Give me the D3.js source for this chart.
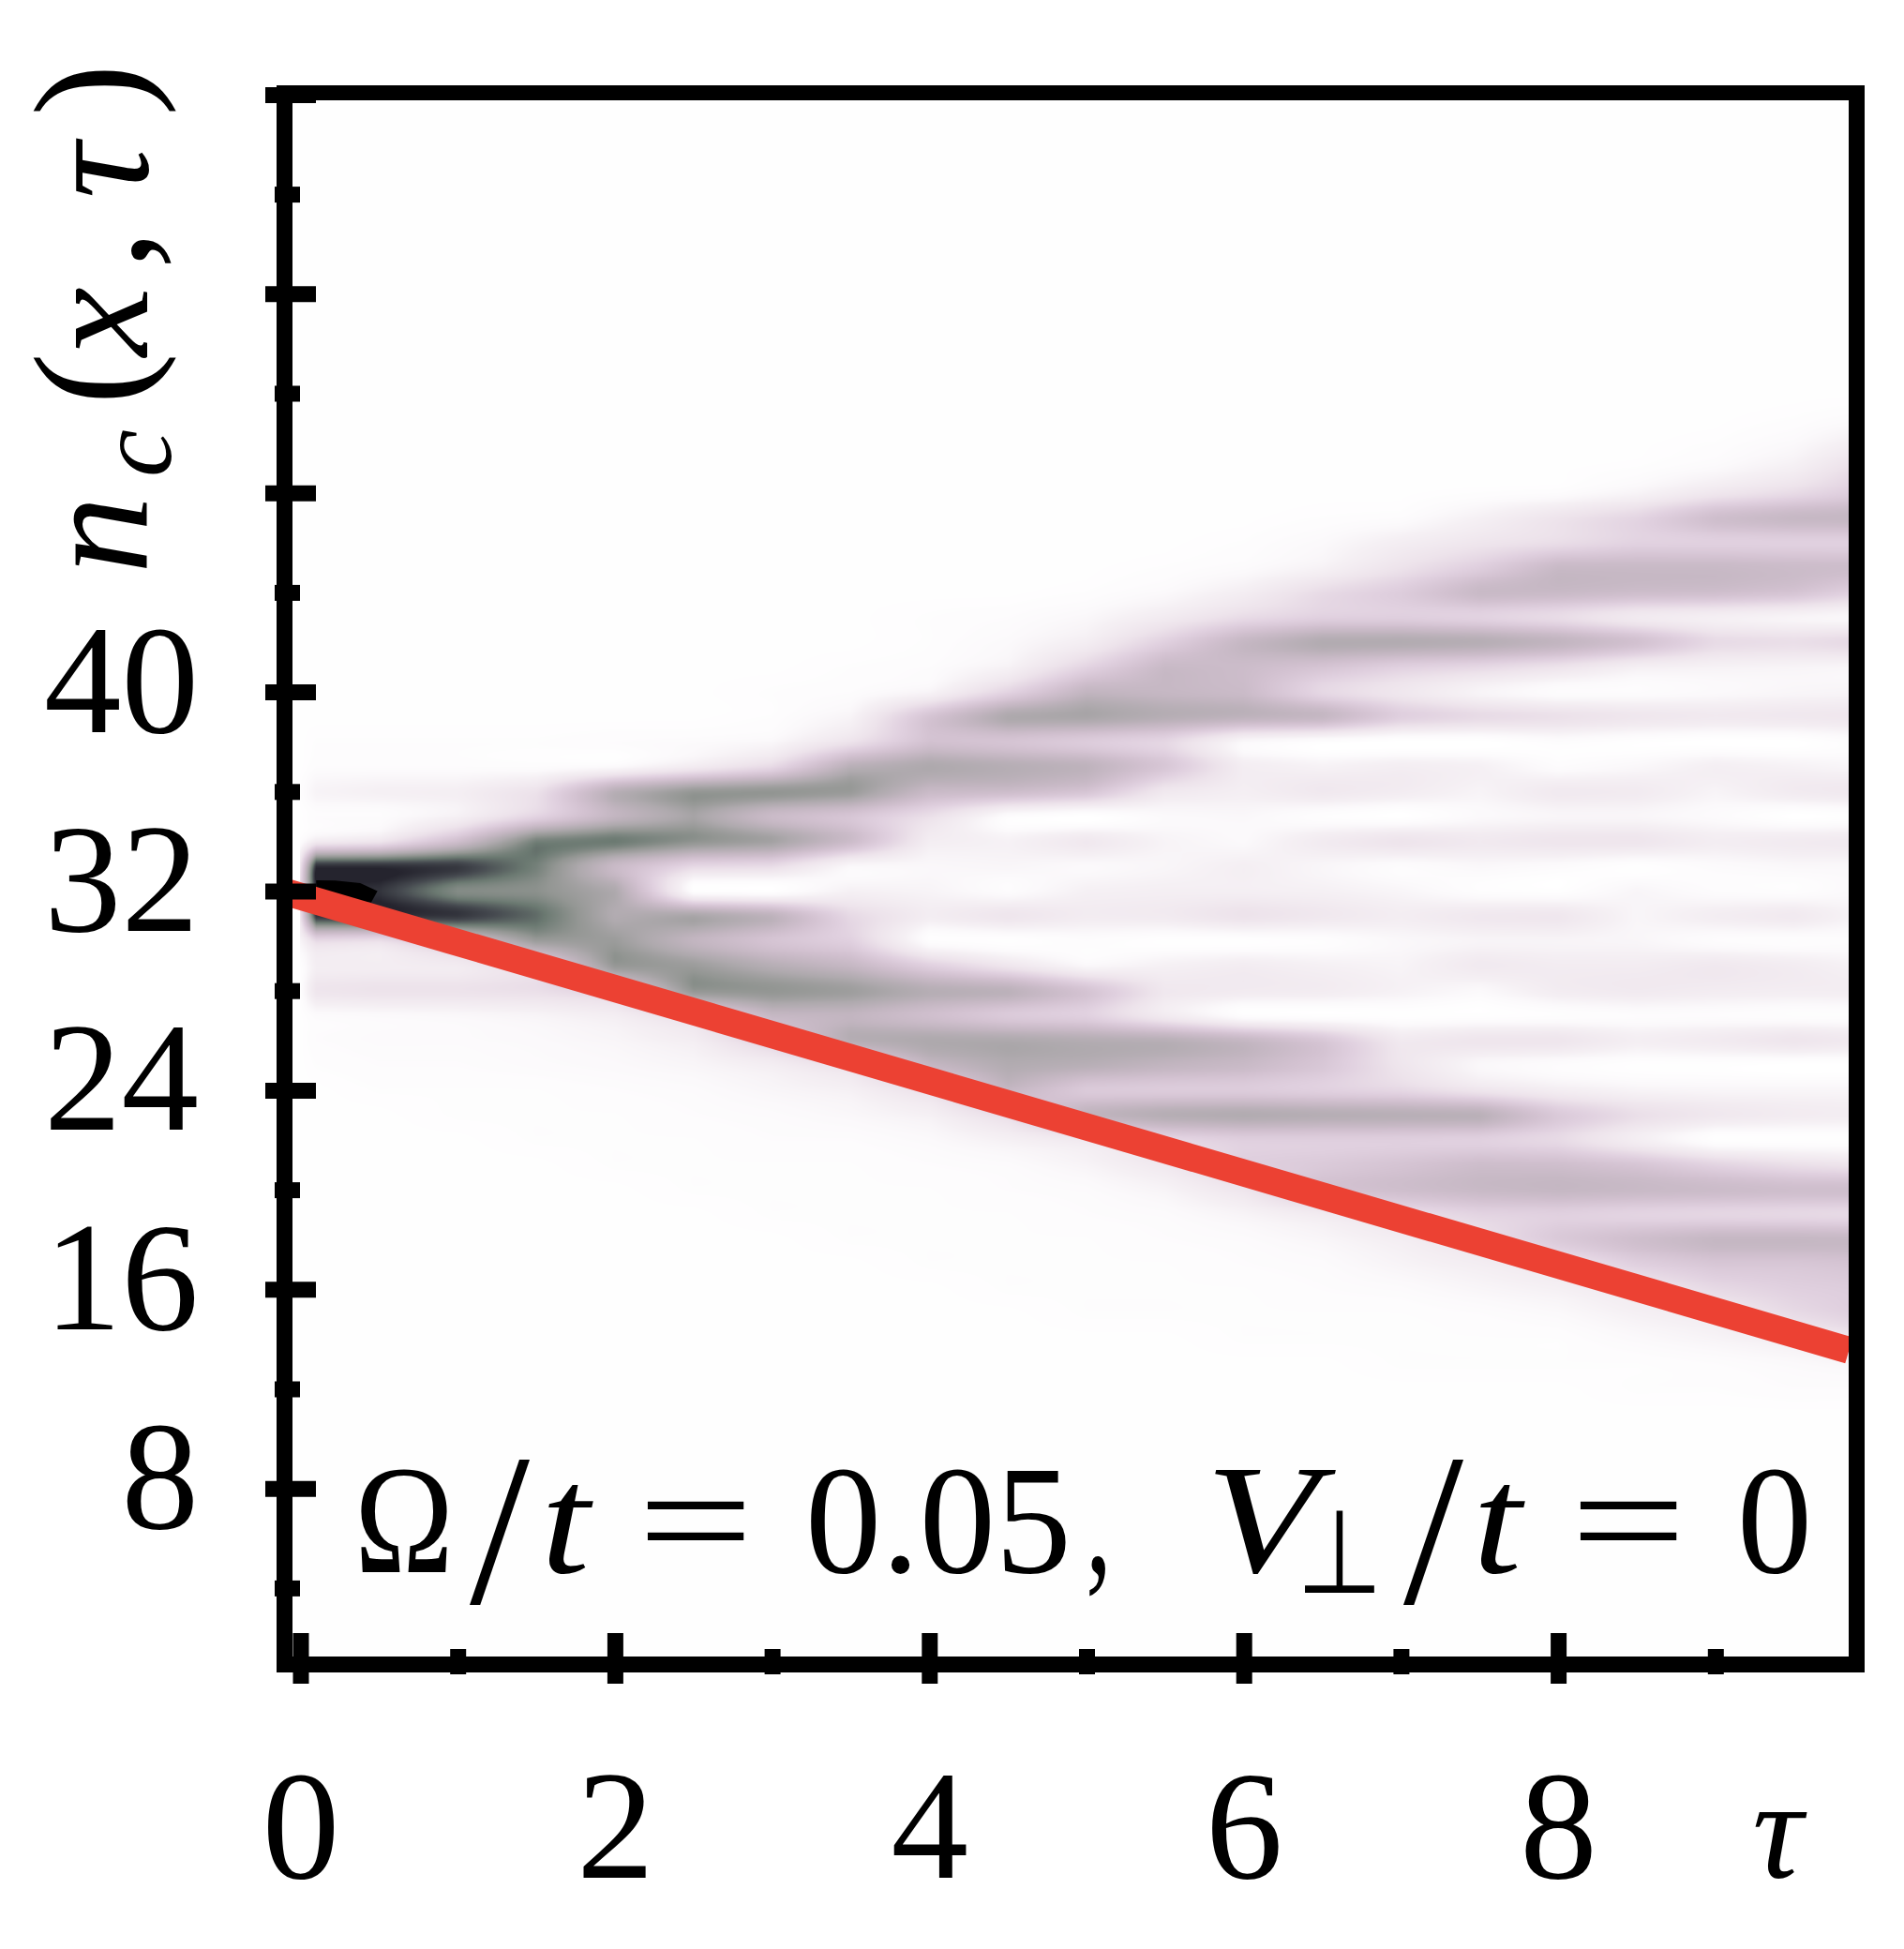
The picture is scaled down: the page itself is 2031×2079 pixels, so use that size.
<!DOCTYPE html>
<html><head><meta charset="utf-8">
<script src="https://cdnjs.cloudflare.com/ajax/libs/d3/7.8.5/d3.min.js"></script>
<style>html,body{margin:0;padding:0;background:#fff}svg{display:block}text{font-family:"Liberation Serif",serif;fill:#000}</style>
</head><body>
<script>
// ---- data ----
const tauColumns = [0,0.1,0.5,1,1.5,2,2.5,3,3.5,4,4.5,5,5.5,6,6.5,7,7.5,8,8.5,9,9.5,9.9];
const s52=[1,1,1,1,1,1,1,1,1,1,1,1,1,1,1,1,1,1,1,1,1,1];
const s51=[1,1,1,1,1,1,1,1,1,1,1,1,1,1,1,1,1,1,1,1,2,4];
const s50=[1,1,1,1,1,1,1,1,1,1,1,1,1,1,1,1,1,1,1,2,5,12];
const s49=[1,1,1,1,1,1,1,1,1,1,1,1,1,1,1,1,1,1,2,5,11,23];
const s48=[1,1,1,1,1,1,1,1,1,1,1,1,1,1,1,1,2,3,8,17,24,32];
const s47=[1,1,1,1,1,1,1,1,1,1,1,1,1,1,2,3,10,19,27,42,47,48];
const s46=[1,1,1,1,1,1,1,1,1,1,1,1,1,2,5,12,18,23,29,30,30,30];
const s45=[1,1,1,1,1,1,1,1,1,1,1,1,2,4,9,20,31,46,46,46,44,43];
const s44=[1,1,1,1,1,1,1,1,1,1,1,2,5,12,24,32,46,46,43,42,38,29];
const s43=[1,1,1,1,1,1,1,1,1,2,3,6,14,24,30,31,29,24,15,11,8,6];
const s42=[1,1,1,1,1,1,1,1,1,2,5,12,30,48,58,58,56,50,40,24,22,25];
const s41=[1,1,1,1,1,1,1,1,2,3,9,28,46,44,38,30,26,20,11,9,8,7];
const s40=[1,1,1,1,1,1,1,2,3,8,28,50,48,45,26,17,8,3,3,5,7,8];
const s39=[1,1,1,1,1,1,1,2,8,38,60,62,56,52,48,30,24,21,17,15,16,17];
const s38=[1,2,2,2,2,3,4,6,20,40,38,33,27,6,2,0,0,3,1,0,0,3];
const s37=[1,3,3,3,3,5,14,25,55,60,56,52,36,12,9,12,10,3,6,11,9,7];
const s36=[2,8,10,11,20,55,69,70,68,46,44,38,16,11,16,13,8,15,14,8,14,16];
const s35=[1,3,3,10,28,50,63,45,37,22,3,0,5,6,2,0,5,7,7,4,0,1];
const s34=[3,14,18,42,78,80,71,64,44,12,9,16,8,5,14,19,15,18,18,12,14,15];
const s33=[20,97,97,94,78,46,26,24,6,6,7,5,7,11,7,3,6,4,1,4,6,6];
const s32=[25,99,96,74,72,60,2,1,10,8,3,10,11,11,10,7,2,1,7,3,2,5];
const s31=[20,96,97,95,83,58,62,52,25,12,18,13,14,20,16,12,16,17,7,12,15,8];
const s30=[8,25,22,40,67,67,50,38,30,2,1,3,1,1,2,6,8,8,7,3,2,3];
const s29=[2,12,12,14,25,69,67,56,48,30,18,6,10,13,10,8,15,13,13,16,13,9];
const s28=[2,18,20,20,22,30,70,70,66,56,53,38,16,14,13,9,5,13,15,13,12,12];
const s27=[1,4,5,6,8,12,25,48,50,42,34,30,14,2,1,1,1,2,3,3,2,2];
const s26=[1,3,4,4,5,7,12,30,56,60,60,57,55,48,36,15,18,18,11,14,18,15];
const s25=[1,2,3,3,4,5,7,12,22,48,58,55,50,46,36,18,6,3,1,1,0,0];
const s24=[1,1,2,2,2,3,4,7,10,22,48,34,33,33,30,26,18,12,8,7,7,7];
const s23=[1,1,1,2,2,2,3,4,6,10,24,50,56,58,56,55,54,34,22,16,13,12];
const s22=[1,1,1,1,2,2,2,3,3,5,10,16,26,31,31,31,30,25,12,1,1,1];
const s21=[1,1,1,1,1,2,2,2,2,3,4,8,16,30,34,38,43,42,37,28,22,19];
const s20=[1,1,1,1,1,1,2,2,2,2,3,4,8,18,38,42,46,48,46,44,42,42];
const s19=[1,1,1,1,1,1,1,2,2,2,2,3,4,8,14,22,28,30,28,27,26,25];
const s18=[1,1,1,1,1,1,1,1,2,2,2,2,3,4,7,12,20,34,42,48,48,47];
const s17=[1,1,1,1,1,1,1,1,1,2,2,2,2,3,4,8,12,18,30,36,36,38];
const s16=[1,1,1,1,1,1,1,1,1,1,2,2,2,2,3,4,7,10,16,25,30,32];
const s15=[1,1,1,1,1,1,1,1,1,1,1,2,2,2,2,2,3,5,10,14,24,30];
const s14=[1,1,1,1,1,1,1,1,1,1,1,1,1,2,2,2,2,2,5,8,12,18];
const s13=[1,1,1,1,1,1,1,1,1,1,1,1,1,1,1,2,2,2,2,3,5,7];
const s12=[1,1,1,1,1,1,1,1,1,1,1,1,1,1,1,1,1,1,2,2,3,3];
const s11=[1,1,1,1,1,1,1,1,1,1,1,1,1,1,1,1,1,1,1,1,1,1];
const siteRows=[s52,s51,s50,s49,s48,s47,s46,s45,s44,s43,s42,s41,s40,s39,s38,s37,s36,s35,s34,s33,s32,s31,s30,s29,s28,s27,s26,s25,s24,s23,s22,s21,s20,s19,s18,s17,s16,s15,s14,s13,s12,s11];
const topSite=52;
const lightConeTau=[-0.1,9.85];
const lightConeSite=[31.97,13.55];
const saturatedTau=[0.1,0.22,0.38,0.49,0.45,0.1];
const saturatedSite=[32.43,32.42,32.32,32,31.55,31.75];
const xMajorTicks=[0,2,4,6,8];
const xMinorTicks=[1,3,5,7,9];
const yMajorTicks=[8,16,24,32,40,48,56,64];
const yMinorTicks=[4,12,20,28,36,44,52,60];
const yLabelled=[8,16,24,32,40];
const colorStops=[0,5,10,20,30,40,50,60,70,80,90,100];
const colorValues=["#ffffff","#fbf9fb","#f5f0f4","#ede3eb","#e0d0df","#d2c1d0","#c2b5c0","#aea9ad","#939693","#6c7a72","#45494f","#25242e"];

// ---- layout ----
const W=2031,H=2079;
const x=d3.scaleLinear().domain([0,9]).range([320.5,1829.8]);
const y=d3.scaleLinear().domain([32,8]).range([950.5,1587.7]);
const inner={l:312,r:1972,t:107,b:1767};
const svg=d3.select("body").append("svg").attr("width",W).attr("height",H).attr("viewBox",`0 0 ${W} ${H}`);
const color=d3.scaleLinear().domain(colorStops).range(colorValues).interpolate(d3.interpolateRgb).clamp(true);

const lut=d3.range(1001).map(i=>d3.rgb(color(i/10)));
function hermite(a,b,c,d,t){
  const t2=t*t,t3=t2*t;
  return 0.5*((2*b)+(-a+c)*t+(2*a-5*b+4*c-d)*t2+(-a+3*b-3*c+d)*t3);
}
function sample(tau,site){
  if(tau<tauColumns[0]) return 0;
  let i=d3.bisectRight(tauColumns,tau)-1;
  i=Math.min(i,tauColumns.length-2);
  const f=Math.min(1,(tau-tauColumns[i])/(tauColumns[i+1]-tauColumns[i]));
  const r=topSite-site;
  const j=Math.floor(r),g=r-j;
  const cell=(jj,ii)=>{
    if(jj<0||jj>=siteRows.length) return 1;
    return siteRows[jj][ii];
  };
  const col=ii=>hermite(cell(j-1,ii),cell(j,ii),cell(j+1,ii),cell(j+2,ii),g);
  return col(i)*(1-f)+col(i+1)*f;
}
const cw=inner.r-inner.l,ch=inner.b-inner.t;
const canvas=document.createElement("canvas");canvas.width=cw;canvas.height=ch;
const ctx=canvas.getContext("2d");
const img=ctx.createImageData(cw,ch);
for(let py=0;py<ch;py++){
  const site=y.invert(py+inner.t+0.5);
  for(let px=0;px<cw;px++){
    const tau=x.invert(px+inner.l+0.5);
    const v=Math.max(0,Math.min(100,sample(tau,site)));
    const c=lut[Math.round(v*10)];
    const k=(py*cw+px)*4;
    img.data[k]=c.r;img.data[k+1]=c.g;img.data[k+2]=c.b;img.data[k+3]=255;
  }
}
ctx.putImageData(img,0,0);
svg.append("image").attr("x",inner.l).attr("y",inner.t).attr("width",cw).attr("height",ch).attr("href",canvas.toDataURL("image/png"));

svg.append("clipPath").attr("id","plotClip").append("rect").attr("x",inner.l).attr("y",inner.t).attr("width",cw).attr("height",ch);
const plot=svg.append("g").attr("clip-path","url(#plotClip)");
plot.append("path").attr("d",d3.line().x(d=>x(d[0])).y(d=>y(d[1])).curve(d3.curveLinearClosed)(d3.zip(saturatedTau,saturatedSite))).attr("fill","#000");
plot.append("path").attr("d",d3.line().x(d=>x(d[0])).y(d=>y(d[1]))(d3.zip(lightConeTau,lightConeSite))).attr("fill","none").attr("stroke","#ec4133").attr("stroke-width",29);

// frame
const frame=[[303.5,1980.5,99,99,16],[303.5,1980.5,1775.5,1775.5,17],[303.5,303.5,91,1784,17],[1980.5,1980.5,91,1784,17]];
svg.selectAll("line.frame").data(frame).join("line").attr("class","frame")
  .attr("x1",d=>d[0]).attr("x2",d=>d[1]).attr("y1",d=>d[2]).attr("y2",d=>d[3]).attr("stroke","#000").attr("stroke-width",d=>d[4]);

// y axis
function yAxis(ticks,x1,x2,fmt){
  const g=svg.append("g").call(d3.axisLeft(y).tickValues(ticks).tickFormat(fmt));
  g.select(".domain").remove();
  g.selectAll(".tick line").attr("x1",x1).attr("x2",x2).attr("stroke","#000").attr("stroke-width",17);
  return g;
}
yAxis(yMinorTicks,293,320,"").selectAll("text").remove();
const gy=yAxis(yMajorTicks,283,337,d=>yLabelled.includes(d)?String(d):"");
gy.attr("font-family",null).attr("font-size",null);
gy.selectAll(".tick text").attr("x",212).attr("dy",null).attr("y",42).attr("text-anchor","end").style("font-size","165px").style("font-family",'"Liberation Serif",serif').attr("fill","#000");

// x axis
function xAxis(ticks,y1,y2,fmt){
  const g=svg.append("g").call(d3.axisBottom(x).tickValues(ticks).tickFormat(fmt));
  g.select(".domain").remove();
  g.selectAll(".tick line").attr("y1",y1).attr("y2",y2).attr("stroke","#000").attr("stroke-width",17);
  return g;
}
xAxis(xMinorTicks,1759,1786,"").selectAll("text").remove();
const gx=xAxis(xMajorTicks,1742,1796,d=>String(d));
gx.attr("font-family",null).attr("font-size",null);
gx.selectAll(".tick text").attr("y",2003).attr("dy",null).attr("text-anchor","middle").style("font-size","165px").style("font-family",'"Liberation Serif",serif').attr("fill","#000");

// x axis title
svg.append("text").attr("x",1896).attr("y",2003).attr("text-anchor","middle").attr("font-size",150).attr("font-style","italic").text("τ");

// y axis title, glyph by glyph (rotated)
const yTitle=[
 {t:"n",b:157,p:612,s:166,i:1},{t:"c",b:182,p:509,s:115,i:1},{t:"(",b:152,p:432,s:168,i:0},
 {t:"x",b:157,p:380,s:166,i:1},{t:",",b:157,p:287,s:166,i:0},{t:"τ",b:157,p:212,s:166,i:1},{t:")",b:152,p:124,s:168,i:0}];
svg.selectAll("text.ytitle").data(yTitle).join("text").attr("class","ytitle")
  .attr("transform",d=>`translate(${d.b},${d.p}) rotate(-90)`)
  .attr("font-size",d=>d.s).attr("font-style",d=>d.i?"italic":"normal").text(d=>d.t);

// annotation, token by token
const note=[
 {t:"Ω",l:378,w:106,s:165,i:0,b:1677},{t:"/",l:501,w:64,s:230,i:0,b:1710},{t:"t",l:577,w:52,s:165,i:1,b:1677},
 {t:"=",l:680,w:124,s:165,i:0,b:1677},{t:"0.05",l:859,w:284,s:165,i:0,b:1677},{t:",",l:1158,w:28,s:165,i:0,b:1677},
 {t:"V",l:1286,w:120,s:165,i:1,b:1677},{t:"⊥",l:1383,w:92,s:125,i:0,b:1699},{t:"/",l:1497,w:64,s:230,i:0,b:1710},
 {t:"t",l:1571,w:52,s:165,i:1,b:1677},{t:"=",l:1675,w:124,s:165,i:0,b:1677},{t:"0",l:1853,w:80,s:165,i:0,b:1677}];
svg.selectAll("text.note").data(note).join("text").attr("class","note")
  .attr("x",d=>d.l).attr("y",d=>d.b).attr("font-size",d=>d.s).attr("font-style",d=>d.i?"italic":"normal")
  .attr("textLength",d=>d.w).attr("lengthAdjust","spacingAndGlyphs").text(d=>d.t);
</script>
</body></html>
